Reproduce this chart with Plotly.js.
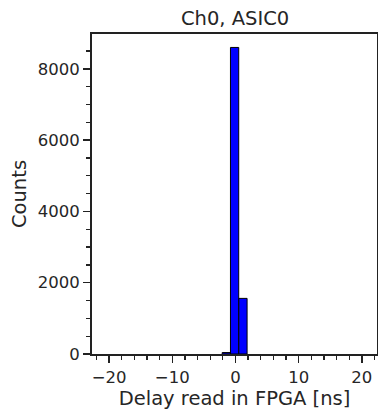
<!DOCTYPE html>
<html>
<head>
<meta charset="utf-8">
<script src="https://cdn.plot.ly/plotly-3.0.1.min.js"></script>
<style>html,body{margin:0;padding:0;background:#fff;}#chart{width:378px;height:410px;}</style>
</head>
<body>
<div id="chart"></div>
<script>
// Histogram bins (centers in ns) and counts
const binCenters = [-1.445, -0.135, 1.185];
const counts = [40, 8600, 1560];
const xTickVals = [-20, -10, 0, 10, 20];
const yTickVals = [0, 2000, 4000, 6000, 8000];

const binWidth = 1.31;
const font = {family: 'DejaVu Sans, sans-serif', color: '#262626'};

const trace = {
  type: 'bar',
  x: binCenters,
  y: counts,
  width: binCenters.map(() => binWidth),
  marker: {color: '#0000ff', line: {color: '#000', width: 1}},
  hoverinfo: 'skip'
};

const layout = {
  width: 378, height: 410,
  margin: {l: 92, r: 1, t: 34, b: 56},
  paper_bgcolor: '#fff', plot_bgcolor: '#fff',
  showlegend: false,
  font: Object.assign({size: 17}, font),
  title: {text: 'Ch0, ASIC0', font: Object.assign({size: 19.5}, font), x: 0.622, xanchor: 'center', y: 0.972, yanchor: 'top'},
  xaxis: {
    range: [-22.7, 22.4],
    tickvals: xTickVals,
    ticktext: xTickVals.map(v => v < 0 ? '\u2212' + Math.abs(v) : String(v)),
    ticks: 'outside', ticklen: 7, tickwidth: 1.5, tickcolor: '#222',
    minor: {dtick: 2, tick0: 0, ticks: 'outside', ticklen: 4, tickwidth: 1.3, tickcolor: '#222'},
    showline: true, linecolor: '#222', linewidth: 2, mirror: true,
    showgrid: false, zeroline: false,
    tickfont: Object.assign({size: 16.5}, font),
    title: {text: 'Delay read in FPGA [ns]', font: Object.assign({size: 19.5}, font), standoff: 0}
  },
  yaxis: {
    range: [0, 8977],
    tickvals: yTickVals,
    ticks: 'outside', ticklen: 7, tickwidth: 1.5, tickcolor: '#222',
    minor: {dtick: 500, tick0: 0, ticks: 'outside', ticklen: 4, tickwidth: 1.3, tickcolor: '#222'},
    showline: true, linecolor: '#222', linewidth: 2, mirror: true,
    showgrid: false, zeroline: false,
    tickfont: Object.assign({size: 16.5}, font),
    title: {text: 'Counts', font: Object.assign({size: 19.5}, font), standoff: 6}
  },
  bargap: 0
};

Plotly.newPlot('chart', [trace], layout, {staticPlot: true, displayModeBar: false});
</script>
</body>
</html>
